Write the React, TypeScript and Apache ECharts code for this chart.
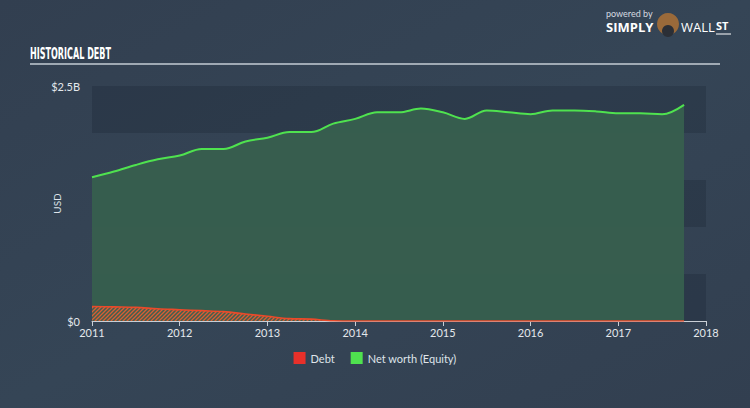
import React, { useEffect, useRef } from "react";
import * as echarts from "echarts";

const periods = [
  2011.0, 2011.25, 2011.5, 2011.75, 2012.0, 2012.25, 2012.5, 2012.75,
  2013.0, 2013.25, 2013.5, 2013.75, 2014.0, 2014.25, 2014.5, 2014.75,
  2015.0, 2015.25, 2015.5, 2015.75, 2016.0, 2016.25, 2016.5, 2016.75,
  2017.0, 2017.25, 2017.5, 2017.75,
];
const netWorth = [
  1.53, 1.59, 1.66, 1.72, 1.76, 1.83, 1.83, 1.91,
  1.95, 2.01, 2.01, 2.1, 2.15, 2.22, 2.22, 2.26,
  2.22, 2.15, 2.24, 2.22, 2.2, 2.24, 2.24, 2.23,
  2.21, 2.21, 2.2, 2.3,
];
const debt = [
  0.155, 0.15, 0.145, 0.13, 0.12, 0.11, 0.1, 0.075,
  0.05, 0.025, 0.02, 0.002, 0, 0, 0, 0,
  0, 0, 0, 0, 0, 0, 0, 0,
  0, 0, 0, 0,
];
const yTickLabels: Record<string, string> = { "0": "$0", "2.5": "$2.5B" };
const seriesNames = ["Debt", "Net worth (Equity)"];

function makeHatch(): HTMLCanvasElement {
  const c = document.createElement("canvas");
  c.width = 4;
  c.height = 4;
  const ctx = c.getContext("2d")!;
  ctx.fillStyle = "rgba(90,95,80,0.35)";
  ctx.fillRect(0, 0, 4, 4);
  ctx.strokeStyle = "rgba(225,95,50,0.95)";
  ctx.lineWidth = 1.3;
  ctx.beginPath();
  ctx.moveTo(0, 4);
  ctx.lineTo(4, 0);
  ctx.moveTo(-1, 1);
  ctx.lineTo(1, -1);
  ctx.moveTo(3, 5);
  ctx.lineTo(5, 3);
  ctx.stroke();
  return c;
}

export default function App() {
  const ref = useRef<HTMLDivElement>(null);
  useEffect(() => {
    if (!ref.current) return;
    const chart = echarts.init(ref.current, null, { renderer: "svg" });
    const hatch = makeHatch();
    const font = "Lato, 'Open Sans', sans-serif";
    chart.setOption({
      animation: false,
      backgroundColor: {
        type: "linear", x: 0, y: 0, x2: 1, y2: 1,
        colorStops: [
          { offset: 0, color: "#323f50" },
          { offset: 0.5, color: "#354556" },
          { offset: 1, color: "#323f50" },
        ],
      },
      grid: { left: 92, right: 44, top: 86, bottom: 87 },
      legend: {
        bottom: 39,
        left: "center",
        itemWidth: 12,
        itemHeight: 12,
        itemGap: 16,
        icon: "rect",
        textStyle: { color: "#dfe4ea", fontSize: 11, fontFamily: font },
        data: seriesNames,
      },
      xAxis: {
        type: "value",
        min: 2011,
        max: 2018,
        interval: 1,
        axisLine: { show: true, lineStyle: { color: "#c9cfd6", width: 1 } },
        axisTick: { show: true, length: 5, lineStyle: { color: "#c9cfd6" } },
        splitLine: { show: false },
        axisLabel: {
          color: "#e4e8ec",
          fontSize: 11,
          fontFamily: font,
          margin: 6,
          formatter: (v: number) => String(Math.round(v)),
        },
      },
      yAxis: {
        type: "value",
        min: 0,
        max: 2.5,
        interval: 0.5,
        name: "USD",
        nameLocation: "middle",
        nameGap: 30,
        nameMoveOverlap: false,
        nameTextStyle: { color: "#dfe4ea", fontSize: 10, fontFamily: font },
        axisLine: { show: false },
        axisTick: { show: false },
        splitLine: { show: false },
        splitArea: {
          show: true,
          areaStyle: { color: ["rgba(20,28,40,0.22)", "rgba(255,255,255,0.0)"] },
        },
        axisLabel: {
          color: "#e4e8ec",
          fontSize: 11,
          fontFamily: font,
          margin: 12,
          formatter: (v: number) => yTickLabels[String(v)] ?? "",
        },
      },
      series: [
        {
          name: seriesNames[1],
          type: "line",
          data: periods.map((p, i) => [p, netWorth[i]]),
          smooth: 0.35,
          showSymbol: false,
          color: "#4fe24f",
          lineStyle: { color: "#4fe24f", width: 2 },
          areaStyle: { color: "#375f4e", opacity: 0.96, origin: "start" },
          z: 2,
        },
        {
          name: seriesNames[0],
          type: "line",
          data: periods.map((p, i) => [p, debt[i]]),
          smooth: 0.35,
          showSymbol: false,
          color: "#e8302a",
          lineStyle: { color: "#ea4a2a", width: 1.6 },
          areaStyle: { color: { image: hatch, repeat: "repeat" }, opacity: 1, origin: "start" },
          z: 3,
        },
      ],
      graphic: [
        {
          type: "text",
          x: 30,
          y: 45,
          scaleX: 0.56,
          style: {
            text: "HISTORICAL DEBT",
            fill: "#ffffff",
            textVerticalAlign: "top",
            font: "bold 16px 'Liberation Sans Narrow', 'DejaVu Sans Condensed', sans-serif",
          },
        },
        {
          type: "line",
          shape: { x1: 30, y1: 64, x2: 720, y2: 64 },
          style: { stroke: "#c5ccd4", lineWidth: 1.5 },
        },
        {
          type: "text",
          left: 606,
          top: 9,
          style: { text: "powered by", fill: "#d6dbe1", font: "9px Lato, sans-serif" },
        },
        {
          type: "text",
          left: 606,
          top: 20,
          style: { text: "SIMPLY", fill: "#ffffff", font: "bold 13px 'Open Sans', sans-serif" },
        },
        {
          type: "circle",
          shape: { cx: 668, cy: 24, r: 11 },
          style: { fill: "#9a6a3a" },
        },
        {
          type: "circle",
          shape: { cx: 668, cy: 31, r: 6 },
          style: { fill: "#2b2f36" },
        },
        {
          type: "text",
          left: 681,
          top: 20,
          style: { text: "WALL", fill: "#ffffff", font: "13px 'Open Sans', sans-serif" },
        },
        {
          type: "text",
          left: 716,
          top: 20,
          style: { text: "ST", fill: "#ffffff", font: "bold 11px 'Open Sans', sans-serif" },
        },
        {
          type: "line",
          shape: { x1: 716, y1: 34, x2: 731, y2: 34 },
          style: { stroke: "#ffffff", lineWidth: 1 },
        },
      ],
    });
    return () => chart.dispose();
  }, []);
  return <div ref={ref} style={{ width: 750, height: 408, position: "absolute", left: 0, top: 0 }} />;
}
